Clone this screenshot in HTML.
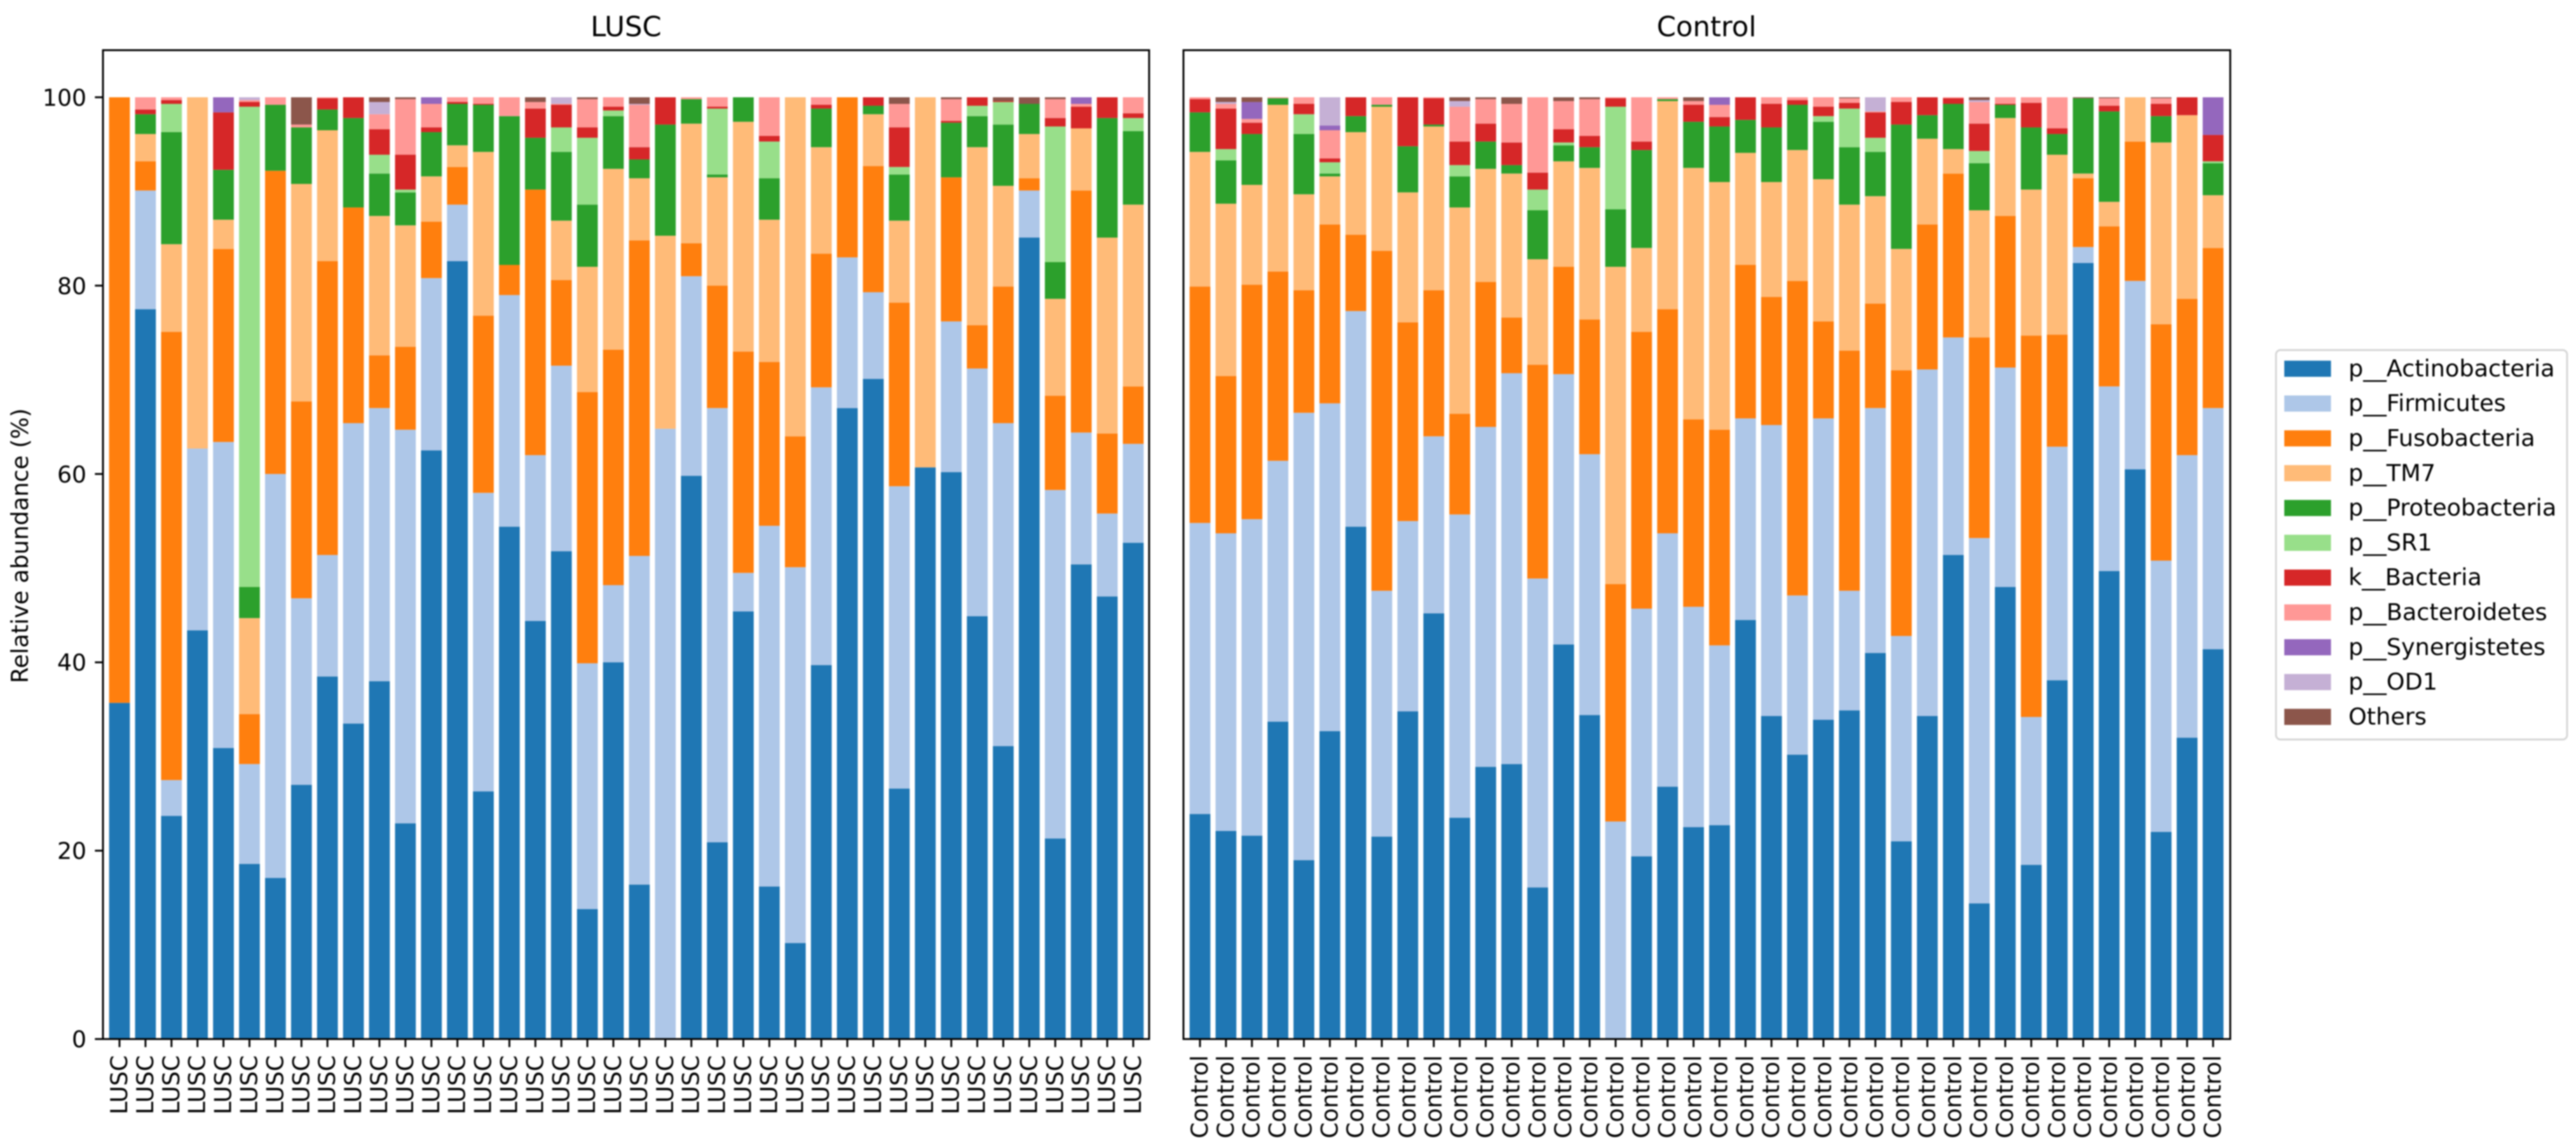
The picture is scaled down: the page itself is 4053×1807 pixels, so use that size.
<!DOCTYPE html>
<html lang="en">
<head>
<meta charset="utf-8">
<title>Relative abundance: LUSC vs Control</title>
<style>
  html, body { margin: 0; padding: 0; background: #fff; }
  body { width: 4053px; height: 1807px; overflow: hidden; }
  #chart { display: block; filter: blur(1px); }
  text { font-family: "DejaVu Sans", "Liberation Sans", sans-serif; fill: #000; }
</style>
</head>
<body>
<svg id="chart" xmlns="http://www.w3.org/2000/svg" width="4053" height="1807" viewBox="0 0 4053 1807">
  <rect x="0" y="0" width="4053" height="1807" fill="#fff"/>
  <g id="lusc-panel"></g>
  <g id="control-panel"></g>
  <text transform="translate(44 859) rotate(-90)" text-anchor="middle" font-size="36.2">Relative abundance (%)</text>
  <text x="985" y="57" text-anchor="middle" font-size="43.4">LUSC</text>
  <text x="2685" y="57" text-anchor="middle" font-size="43.4">Control</text>
  <g id="legend">
    <rect x="3581" y="551" width="458" height="613" rx="7" ry="7" fill="#fff" stroke="#d6d6d6" stroke-width="2.9"/>
  </g>
</svg>
<script>
const phyla = ["p__Actinobacteria","p__Firmicutes","p__Fusobacteria","p__TM7","p__Proteobacteria","p__SR1","k__Bacteria","p__Bacteroidetes","p__Synergistetes","p__OD1","Others"];
const phylumColors = ["#1f77b4","#aec7e8","#ff7f0e","#ffbb78","#2ca02c","#98df8a","#d62728","#ff9896","#9467bd","#c5b0d5","#8c564b"];
const yTickValues = [0,20,40,60,80,100];

const luscLabel = "LUSC";
const luscActinobacteria = [35.7,77.5,23.7,43.4,30.9,18.6,17.1,27,38.5,33.5,38,22.9,62.5,82.6,26.3,54.4,44.4,51.8,13.8,40,16.4,0,59.8,20.9,45.4,16.2,10.2,39.7,67,70.1,26.6,60.7,60.2,44.9,31.1,85.1,21.3,50.4,47,52.7];
const luscFirmicutes = [0,12.6,3.8,19.3,32.5,10.6,42.9,19.8,12.9,31.9,29,41.8,18.3,6,31.7,24.6,17.6,19.7,26.1,8.2,34.9,64.8,21.2,46.1,4.1,38.3,39.9,29.5,16,9.2,32.1,0,16,26.3,34.3,5,37,14,8.8,10.5];
const luscFusobacteria = [64.3,3.1,47.6,0,20.5,5.3,32.2,20.9,31.2,22.9,5.6,8.8,6,4,18.8,3.2,28.2,9.1,28.8,25,33.5,0,3.5,13,23.5,17.4,13.9,14.2,17,13.4,19.5,0,15.3,4.6,14.5,1.3,10,25.7,8.5,6.1];
const luscTM7 = [0,2.9,9.3,37.3,3.1,10.2,0,23.1,13.9,0,14.8,12.9,4.8,2.3,17.4,0,0,6.3,13.3,19.2,6.6,20.5,12.7,11.5,24.4,15.1,36,11.3,0,5.5,8.7,39.3,0,18.9,10.7,4.7,10.3,6.6,20.8,19.3];
const luscProteobacteria = [0,2.1,11.9,0,5.3,3.3,7,6,2.2,9.5,4.5,3.5,4.7,4.4,5,15.8,5.5,7.3,6.6,5.6,2,11.8,2.6,0.3,2.6,4.4,0,4.1,0,0.9,4.9,0,5.8,3.3,6.5,3.2,3.9,0,12.7,7.8];
const luscSR1 = [0,0,3,0,0,51,0,0,0,0,2,0.3,0,0,0,0,0,2.6,7.1,0.6,0,0,0,7,0,3.9,0,0,0,0,0.8,0,0,1.1,2.4,0,14.4,0,0,1.4];
const luscBacteria = [0,0.5,0.4,0,6.1,0.5,0,0,1.2,2.2,2.7,3.7,0.5,0.2,0.1,0,3.1,2.4,1.1,0.4,1.3,2.9,0,0.2,0,0.6,0,0.4,0,0.9,4.2,0,0.2,0.9,0.1,0,0.9,2.3,2.2,0.5];
const luscBacteroidetes = [0,1.3,0.3,0,0,0.2,0.8,0.3,0.1,0,1.6,5.9,2.5,0.5,0.7,2,0.7,0.1,3,1,4.5,0,0.2,1,0,4.1,0,0.8,0,0,2.5,0,2.3,0,0,0,2,0.3,0,1.7];
const luscSynergistetes = [0,0,0,0,1.6,0,0,0,0,0,0,0,0.7,0,0,0,0,0,0,0,0,0,0,0,0,0,0,0,0,0,0,0,0,0,0,0,0,0.7,0,0];
const luscOD1 = [0,0,0,0,0,0.3,0,0,0,0,1.3,0,0,0,0,0,0,0.7,0,0,0.1,0,0,0,0,0,0,0,0,0,0,0,0,0,0,0,0,0,0,0];
const luscOthers = [0,0,0,0,0,0,0,2.9,0,0,0.5,0.2,0,0,0,0,0.5,0,0.2,0,0.7,0,0,0,0,0,0,0,0,0,0.7,0,0.2,0,0.4,0.7,0.2,0,0,0];

const controlLabel = "Control";
const controlActinobacteria = [23.9,22.1,21.6,33.7,19,32.7,54.4,21.5,34.8,45.2,23.5,28.9,29.2,16.1,41.9,34.4,0,19.4,26.8,22.5,22.7,44.5,34.3,30.2,33.9,34.9,41,21,34.3,51.4,14.4,48,18.5,38.1,82.4,49.7,60.5,22,32,41.4];
const controlFirmicutes = [30.9,31.6,33.6,27.7,47.5,34.8,22.9,26.1,20.2,18.8,32.2,36.1,41.5,32.8,28.7,27.7,23.1,26.3,26.9,23.4,19.1,21.4,30.9,16.9,32,12.7,26,21.8,36.8,23.1,38.8,23.3,15.7,24.8,1.7,19.6,20,28.8,30,25.6];
const controlFusobacteria = [25.1,16.7,24.9,20.1,13,19,8.1,36.1,21.1,15.5,10.7,15.4,5.9,22.7,11.4,14.3,25.2,29.4,23.8,19.9,22.9,16.3,13.6,33.4,10.3,25.5,11.1,28.2,15.4,17.4,21.3,16.1,40.5,11.9,7.3,17,14.8,25.1,16.6,17];
const controlTM7 = [14.3,18.3,10.6,17.7,10.2,5.1,10.9,15.3,13.8,17.4,21.9,12,15.3,11.2,11.2,16.1,33.7,8.9,22.1,26.7,26.3,11.9,12.2,13.9,15.1,15.5,11.4,12.9,9.1,2.6,13.5,10.4,15.5,19.1,0.5,2.6,4.7,19.3,19.5,5.6];
const controlProteobacteria = [4.2,4.6,5.4,0.7,6.4,0.3,1.7,0.2,4.9,0.2,3.3,2.9,0.9,5.2,1.7,2.2,6.1,10.4,0.2,4.9,5.9,3.5,5.8,4.8,6.1,6.1,4.7,13.2,2.5,4.8,5,1.4,6.6,2.2,8,9.6,0,2.8,0,3.4];
const controlSR1 = [0,1.2,0,0,2.1,1.2,0,0,0,0,1.2,0,0,2.2,0.3,0,10.9,0,0,0,0,0,0,0,0.6,4.1,1.5,0,0,0,1.3,0,0,0,0,0,0,0,0,0.2];
const controlBacteria = [1.4,4.3,1.2,0,1.1,0.4,2,0,5.2,2.8,2.5,1.9,2.4,1.8,1.4,1.2,0.9,0.9,0,1.8,1,2.4,2.5,0.5,1,0.6,2.7,2.4,1.9,0.6,2.9,0.1,2.6,0.6,0,0.6,0,1.3,1.9,2.8];
const controlBacteroidetes = [0.2,0.5,0.4,0.1,0.7,3,0,0.8,0,0.1,3.7,2.6,4.1,8,3,3.9,0.1,4.7,0.2,0.4,1.3,0,0.7,0.3,1,0.5,0.1,0.5,0,0.1,2.3,0.7,0.6,3.3,0,0.8,0,0.6,0,0];
const controlSynergistetes = [0,0,1.8,0,0,0.5,0,0,0,0,0,0,0,0,0,0,0,0,0,0,0.8,0,0,0,0,0,0,0,0,0,0,0,0,0,0,0,0,0,0,4];
const controlOD1 = [0,0.2,0,0,0,3,0,0,0,0,0.6,0,0,0,0,0,0,0,0,0,0,0,0,0,0,0,1.5,0,0,0,0.2,0,0,0,0,0,0,0,0,0];
const controlOthers = [0,0.5,0.5,0,0,0,0,0,0,0,0.4,0.2,0.7,0,0.4,0.2,0,0,0,0.4,0,0,0,0,0,0.1,0,0,0,0,0.3,0,0,0,0.1,0.1,0,0.1,0,0];

const luscSeries = [luscActinobacteria,luscFirmicutes,luscFusobacteria,luscTM7,luscProteobacteria,luscSR1,luscBacteria,luscBacteroidetes,luscSynergistetes,luscOD1,luscOthers];
const controlSeries = [controlActinobacteria,controlFirmicutes,controlFusobacteria,controlTM7,controlProteobacteria,controlSR1,controlBacteria,controlBacteroidetes,controlSynergistetes,controlOD1,controlOthers];

const NS = "http://www.w3.org/2000/svg";
const plotTop = 79, plotBottom = 1635.5, yMax = 105;

function yScale(v) {
  return plotBottom - (v / yMax) * (plotBottom - plotTop);
}

function makeBandScale(firstCenter, lastCenter, count) {
  const step = (lastCenter - firstCenter) / (count - 1);
  const fn = function (i) { return firstCenter + step * i; };
  fn.step = step;
  return fn;
}

function slug(s) {
  return s.replace(/^[a-z]__/, "").toLowerCase();
}

function svgEl(tag, attrs) {
  const el = document.createElementNS(NS, tag);
  for (const k in attrs) el.setAttribute(k, attrs[k]);
  return el;
}

function drawPanel(root, series, label, left, right, firstCenter, lastCenter, showYAxis, prefix) {
  const n = series[0].length;
  const x = makeBandScale(firstCenter, lastCenter, n);
  const barW = x.step * 0.8;

  const cumulative = new Array(n).fill(0);
  series.forEach(function (values, s) {
    values.forEach(function (v, i) {
      const yTop = yScale(cumulative[i] + v);
      const yBot = yScale(cumulative[i]);
      const bar = svgEl("rect", { x: x(i) - barW / 2, y: yTop, width: barW, height: Math.max(0, yBot - yTop), fill: phylumColors[s] });
      
      
      root.appendChild(bar);
      cumulative[i] += v;
    });
  });

  for (let i = 0; i < n; i++) {
    const tick = svgEl("line", { x1: x(i), x2: x(i), y1: plotBottom, y2: plotBottom + 12.7, stroke: "#000", "stroke-width": 2.9 });
    
    
    root.appendChild(tick);
    const tx = svgEl("text", { transform: "translate(" + (x(i) + 12) + " 1661) rotate(-90)", "text-anchor": "end", "font-size": 36.2 });
    tx.textContent = label;
    
    
    root.appendChild(tx);
  }

  if (showYAxis) {
    yTickValues.forEach(function (v) {
      const tick = svgEl("line", { x1: left - 12.7, x2: left, y1: yScale(v), y2: yScale(v), stroke: "#000", "stroke-width": 2.9 });
      
      
      root.appendChild(tick);
      const t = svgEl("text", { x: left - 26, y: yScale(v) + 13.2, "text-anchor": "end", "font-size": 36.2 });
      t.textContent = String(v);
      
      
      root.appendChild(t);
    });
  }

  const frame = svgEl("rect", { x: left, y: plotTop, width: right - left, height: plotBottom - plotTop, fill: "none", stroke: "#000", "stroke-width": 2.9 });
  
  
  root.appendChild(frame);
}

function drawLegend(root) {
  phyla.forEach(function (name, i) {
    const cy = 580.4 + i * 54.8;
    const swatch = svgEl("rect", { x: 3594, y: cy - 12.7, width: 73.5, height: 25.4, fill: phylumColors[i] });
    
    
    root.appendChild(swatch);
    const t = svgEl("text", { x: 3695, y: cy + 12, "font-size": 36.6 });
    t.textContent = name;
    
    
    root.appendChild(t);
  });
}

drawPanel(document.getElementById("lusc-panel"), luscSeries, luscLabel, 162, 1808, 188, 1783, true, "lusc");
drawPanel(document.getElementById("control-panel"), controlSeries, controlLabel, 1862, 3509, 1888, 3482, false, "control");
drawLegend(document.getElementById("legend"));
</script>
</body>
</html>
